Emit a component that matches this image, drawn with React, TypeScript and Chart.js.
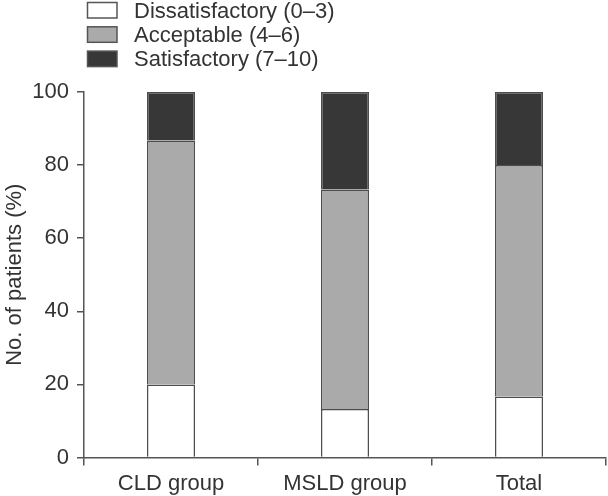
import React, { useEffect, useRef } from "react";
import { Chart, registerables } from "chart.js";

Chart.register(...registerables);

const categories = ["CLD group", "MSLD group", "Total"];
const seriesLabels = ["Dissatisfactory (0–3)", "Acceptable (4–6)", "Satisfactory (7–10)"];
const dissatisfactory = [20, 13.3, 16.7];
const acceptable = [66.7, 60, 63.3];
const satisfactory = [13.3, 26.7, 20];
const yTicks = [0, 20, 40, 60, 80, 100];
const yTitle = "No. of patients (%)";

const TEXT = "#333333";
const AXIS = "#555555";
const FONT_FAMILY = "'Liberation Sans', Arial, Helvetica, sans-serif";

const legendPlugin = {
  id: "stackLegend",
  afterDraw(chart: any) {
    const ctx = chart.ctx;
    ctx.save();
    chart.data.datasets.forEach((ds: any, i: number) => {
      const y = 2 + i * 24.3;
      ctx.fillStyle = ds.backgroundColor;
      ctx.fillRect(87.5, y + 0.5, 29.5, 15.5);
      ctx.strokeStyle = AXIS;
      ctx.lineWidth = 1.5;
      ctx.strokeRect(87.5, y + 0.5, 29.5, 15.5);
      ctx.fillStyle = TEXT;
      ctx.font = `22px ${FONT_FAMILY}`;
      ctx.textBaseline = "middle";
      ctx.textAlign = "left";
      ctx.fillText(ds.label, 134, y + 9.5);
    });
    ctx.restore();
  },
};

export default function App() {
  const ref = useRef<HTMLCanvasElement | null>(null);

  useEffect(() => {
    document.body.style.margin = "0";
    const canvas = ref.current;
    if (!canvas) return;
    const barStyle = {
      borderColor: "#4d4d4d",
      borderWidth: { top: 1.5, left: 1.5, right: 1.5, bottom: 0 },
      borderSkipped: false as const,
      barPercentage: 0.276,
      categoryPercentage: 1,
    };
    const chart = new Chart(canvas, {
      type: "bar",
      data: {
        labels: categories,
        datasets: [
          { label: seriesLabels[0], data: dissatisfactory, backgroundColor: "#ffffff", ...barStyle },
          { label: seriesLabels[1], data: acceptable, backgroundColor: "#aaaaaa", ...barStyle },
          { label: seriesLabels[2], data: satisfactory, backgroundColor: "#373737", ...barStyle },
        ],
      },
      options: {
        responsive: false,
        animation: false,
        layout: { padding: { top: 92, right: 2, left: 0, bottom: 0 } },
        plugins: { legend: { display: false }, tooltip: { enabled: false } },
        scales: {
          x: {
            stacked: true,
            grid: {
              offset: true,
              drawOnChartArea: false,
              tickLength: 8,
              color: AXIS,
              lineWidth: 1.5,
            },
            border: { color: AXIS, width: 1.5 },
            ticks: { color: TEXT, font: { size: 22, family: FONT_FAMILY }, padding: 5 },
            afterFit: (s: any) => {
              s.height = 38.5;
            },
          },
          y: {
            stacked: true,
            min: 0,
            max: 100,
            afterBuildTicks: (s: any) => {
              s.ticks = yTicks.map((v) => ({ value: v }));
            },
            grid: {
              drawOnChartArea: false,
              tickLength: 7,
              color: AXIS,
              lineWidth: 1.5,
            },
            border: { color: AXIS, width: 1.5 },
            ticks: { color: TEXT, font: { size: 22, family: FONT_FAMILY }, padding: 8 },
            title: {
              display: true,
              text: yTitle,
              color: TEXT,
              font: { size: 22, family: FONT_FAMILY },
              padding: { top: 2, bottom: 0 },
            },
            afterFit: (s: any) => {
              s.width = 84;
            },
          },
        },
      },
      plugins: [legendPlugin],
    });
    return () => chart.destroy();
  }, []);

  return (
    <div style={{ width: 608, height: 496, background: "#ffffff" }}>
      <canvas ref={ref} width={608} height={496} style={{ display: "block" }} />
    </div>
  );
}
